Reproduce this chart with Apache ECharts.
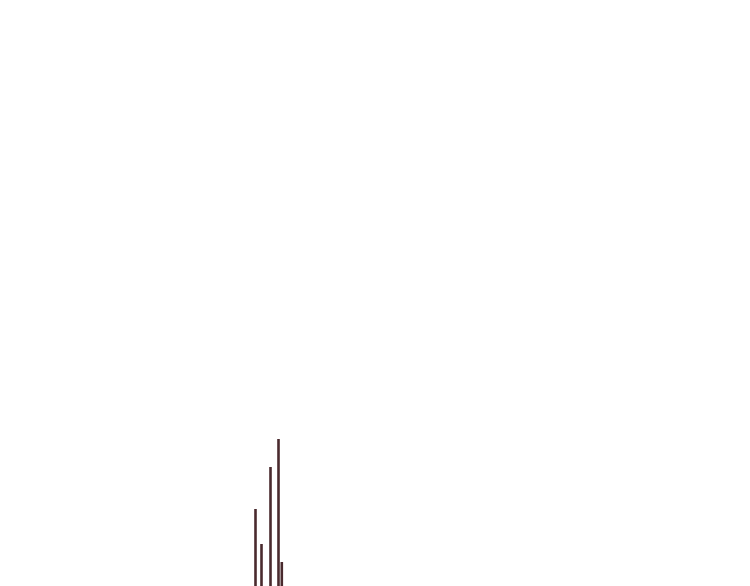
<!DOCTYPE html>
<html>
<head>
<meta charset="utf-8">
<script src="https://cdn.jsdelivr.net/npm/echarts@6/dist/echarts.min.js"></script>
<style>html,body{margin:0;padding:0;background:#fff;}#chart{width:750px;height:586px;}</style>
</head>
<body>
<div id="chart"></div>
<script>
var positions = [255.5, 261.5, 270.5, 278.5, 281.8];
var heights = [77, 42, 119, 147, 24];

var data = positions.map(function (p, i) { return [p, heights[i]]; });
var chart = echarts.init(document.getElementById('chart'), null, { renderer: 'canvas' });
chart.setOption({
  animation: false,
  backgroundColor: '#ffffff',
  grid: { left: 0, right: 0, top: 0, bottom: 0 },
  xAxis: { type: 'value', min: 0, max: 750, show: false },
  yAxis: { type: 'value', min: 0, max: 586, show: false },
  series: [{
    type: 'bar',
    data: data,
    barWidth: 2.6,
    itemStyle: { color: '#4a2a2e' }
  }]
});
</script>
</body>
</html>
